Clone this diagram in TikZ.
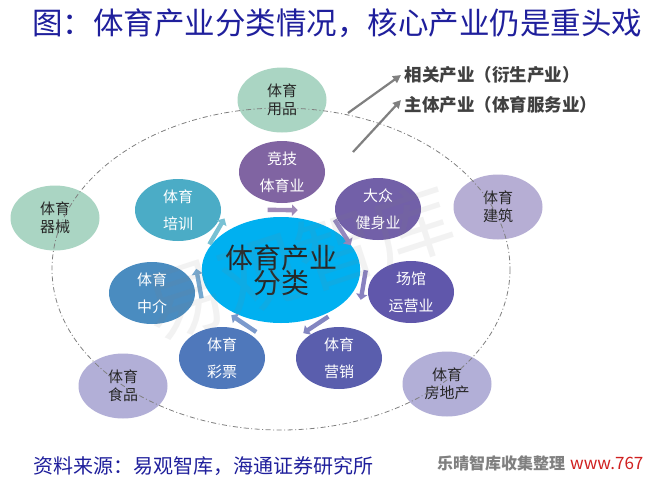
\documentclass[tikz,border=0pt]{standalone}
\usepackage{fontspec}
\setmainfont{Noto Sans CJK SC}
\usetikzlibrary{shapes.geometric,shapes.arrows,arrows.meta}
\definecolor{titleblue}{HTML}{1F1F9C}
\definecolor{cyanc}{HTML}{00B0F0}
\definecolor{cjingji}{HTML}{8064A2}
\definecolor{cdazhong}{HTML}{7260A8}
\definecolor{cchangguan}{HTML}{6057AB}
\definecolor{cyingxiao}{HTML}{5A5EAD}
\definecolor{ccaipiao}{HTML}{4F78BB}
\definecolor{czhongjie}{HTML}{4A8CC0}
\definecolor{cpeixun}{HTML}{4BACC6}
\definecolor{ogreen}{HTML}{AAD5C3}
\definecolor{olav}{HTML}{B6AED4}
\definecolor{olav2}{HTML}{B2AFD7}
\definecolor{lblgray}{HTML}{404040}
\definecolor{arrgray}{HTML}{808080}
\definecolor{wmred}{HTML}{D02020}
\begin{document}
\begin{tikzpicture}[x=1pt,y=-1pt,
  innerc/.style={ellipse, inner sep=0pt, minimum width=86pt, minimum height=62pt,
    text=white, align=center, font=\fontsize{15}{27}\selectfont},
  outerc/.style={ellipse, inner sep=0pt, minimum width=89pt, minimum height=65pt,
    text=black!85, align=center, font=\fontsize{15}{18}\selectfont},
  sarrow/.style={single arrow, draw=none, inner sep=2pt, minimum height=30pt,
    single arrow head extend=3.5pt, sloped, allow upside down, rotate=-90},
  grayarrow/.style={draw=arrgray, line width=2.2pt, -{Triangle[length=8pt,width=8pt]}},
  lbl/.style={anchor=west, text=lblgray, font=\fontsize{17.5}{19}\selectfont\bfseries},
  ring/.style={draw=gray, line width=0.8pt, dash pattern=on 5pt off 2.5pt on 1pt off 2.5pt}
]
\useasboundingbox (0,0) rectangle (645,488);
\fill[white] (0,0) rectangle (645,488);

% title
\node[anchor=west, text=titleblue, font=\fontsize{30.5}{33}\selectfont, inner sep=0pt] (title) at (32,23)
  {图：体育产业分类情况，核心产业仍是重头戏};

% outer circles
\node[outerc, fill=ogreen] (o1) at (282,100) {体育\\用品};
\node[outerc, fill=olav] (o2) at (498,207) {体育\\建筑};
\node[outerc, fill=olav2] (o3) at (447,384) {体育\\房地产};
\node[outerc, fill=olav2] (o4) at (123,386) {体育\\食品};
\node[outerc, fill=ogreen] (o5) at (55,218) {体育\\器械};

% dash-dot ring
\draw[ring] (281,269) ellipse [x radius=229, y radius=161];

% center
\node[ellipse, inner sep=0pt, minimum width=146pt, minimum height=106pt, fill=cyanc,
  align=center, text=black!85, font=\fontsize{28}{30}\selectfont] (C) at (281,270)
  {体育产业\\[-5pt]分类};

% inner ring
\node[innerc, fill=cjingji] (n1) at (282,172) {竞技\\体育业};
\node[innerc, fill=cdazhong] (n2) at (378,209) {大众\\健身业};
\node[innerc, fill=cchangguan] (n3) at (411,292) {场馆\\运营业};
\node[innerc, fill=cyingxiao] (n4) at (339,358) {体育\\营销};
\node[innerc, fill=ccaipiao] (n5) at (222,358) {体育\\彩票};
\node[innerc, fill=czhongjie] (n6) at (152,293) {体育\\中介};
\node[innerc, fill=cpeixun] (n7) at (178,210) {体育\\培训};

% small tangential arrows between center and inner circles
\path (C) -- node[sarrow, fill=cjingji!75] {} (n1);
\path (C) -- node[sarrow, fill=cdazhong!75] {} (n2);
\path (C) -- node[sarrow, fill=cchangguan!75] {} (n3);
\path (C) -- node[sarrow, fill=cyingxiao!75] {} (n4);
\path (C) -- node[sarrow, fill=ccaipiao!75] {} (n5);
\path (C) -- node[sarrow, fill=czhongjie!75] {} (n6);
\path (C) -- node[sarrow, fill=cpeixun!75] {} (n7);

% gray arrows and labels
\node[lbl] (l1) at (401,75) {相关产业（衍生产业）};
\node[lbl] (l2) at (401,105) {主体产业（体育服务业）};
\coordinate (a1s) at (348,113);
\coordinate (a2s) at (353,152);
\draw[grayarrow] (a1s) -- (l1.west);
\draw[grayarrow] (a2s) -- ([yshift=5pt]l2.west);

% source
\node[anchor=west, text=titleblue, font=\fontsize{20}{22}\selectfont, inner sep=0pt] (src) at (33,466)
  {资料来源：易观智库，海通证券研究所};
\node[anchor=west, text=gray, font=\fontsize{16}{18}\selectfont\bfseries, inner sep=0pt] (wm1) at (437,463)
  {乐晴智库收集整理};
\node[anchor=west, text=wmred, font=\fontsize{17}{18}\selectfont, inner sep=0pt] (wm2) at (570,463)
  {www.767};

% faint watermark
\node[rotate=18, text=gray, opacity=0.1, font=\fontsize{80}{80}\selectfont] (wm) at (298,262) {易观智库};
\end{tikzpicture}
\end{document}
